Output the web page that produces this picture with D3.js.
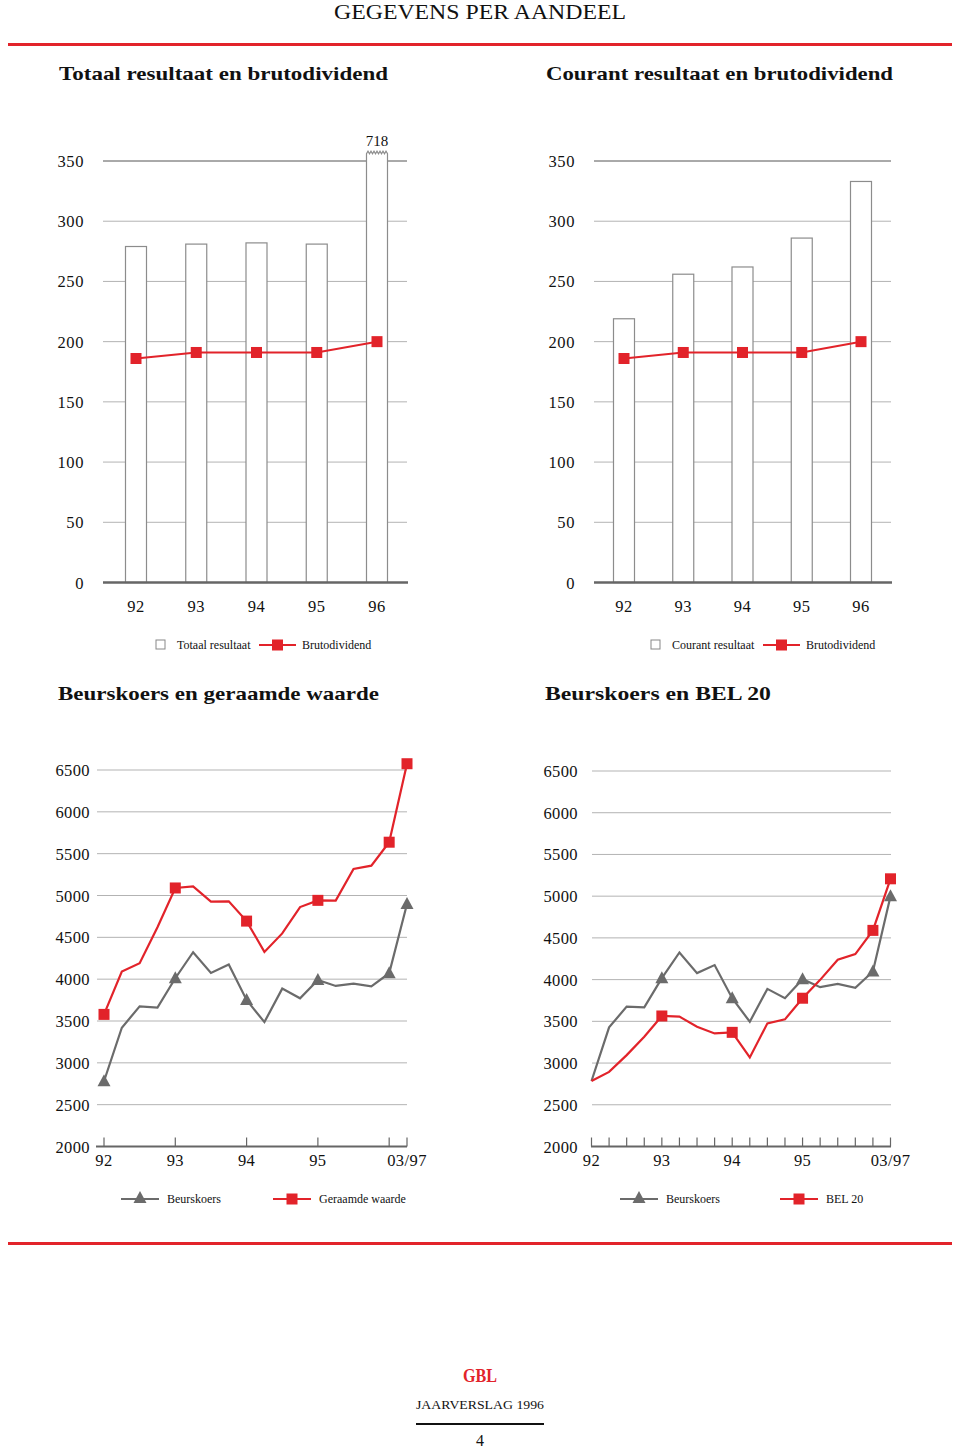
<!DOCTYPE html>
<html><head><meta charset="utf-8">
<script src="https://cdn.jsdelivr.net/npm/d3@7"></script>
<style>
body{margin:0;background:#fff}
svg{display:block}
text{font-family:"Liberation Serif","Times New Roman",serif;fill:#111}
</style>
</head><body>
<svg id="c" width="960" height="1450"></svg>
<script>
// ---------- DATA ----------
const years = ["92", "93", "94", "95", "96"];
const totaalResultaat = [279, 281, 282, 281, 718];
const courantResultaat = [219, 256, 262, 286, 333];
const brutodividend = [186, 191, 191, 191, 200];
const yTicksTop = [0, 50, 100, 150, 200, 250, 300, 350];

const periods = ["92","92-2","92-3","92-4","93","93-2","93-3","93-4","94","94-2","94-3","94-4","95","95-2","95-3","95-4","96","03/97"];
const periodLabels = {"92":"92","93":"93","94":"94","95":"95","03/97":"03/97"};
const beurskoersL = [2780, 3420, 3675, 3660, 4011, 4322, 4074, 4175, 3751, 3487, 3887, 3771, 3991, 3919, 3947, 3915, 4071, 4898];
const geraamdeWaarde = [3579, 4091, 4191, 4620, 5090, 5110, 4926, 4930, 4694, 4326, 4547, 4862, 4942, 4940, 5318, 5357, 5637, 6575];
const beurskoersR = [2785, 3428, 3676, 3668, 4017, 4325, 4078, 4174, 3777, 3495, 3889, 3777, 4005, 3909, 3949, 3901, 4097, 5000];
const bel20 = [2785, 2894, 3095, 3315, 3564, 3556, 3435, 3355, 3368, 3067, 3476, 3524, 3777, 3997, 4238, 4306, 4590, 5208];
const yTicksBottom = [2000, 2500, 3000, 3500, 4000, 4500, 5000, 5500, 6000, 6500];

// ---------- STYLE ----------
const RED = "#e2232a", GRAY = "#6b6b6b", GRID = "#b3b3b3", BARSTROKE = "#8c8c8c", AXIS = "#666";
const svg = d3.select("#c");

// header
svg.append("text").attr("x", 334).attr("y", 19).attr("font-size", 20)
  .attr("textLength", 292).attr("lengthAdjust", "spacingAndGlyphs").text("GEGEVENS PER AANDEEL");
svg.append("rect").attr("x", 8).attr("y", 43).attr("width", 944).attr("height", 3).attr("fill", RED);
svg.append("rect").attr("x", 8).attr("y", 1242).attr("width", 944).attr("height", 3).attr("fill", RED);

function title(x, y, len, t) {
  svg.append("text").attr("x", x).attr("y", y).attr("font-size", 19).attr("font-weight", "bold")
    .attr("textLength", len).attr("lengthAdjust", "spacingAndGlyphs").text(t);
}
title(59, 80, 329, "Totaal resultaat en brutodividend");
title(546, 80, 347, "Courant resultaat en brutodividend");
title(58, 700, 321, "Beurskoers en geraamde waarde");
title(545, 700, 226, "Beurskoers en BEL 20");

// ---------- BAR CHARTS ----------
function barChart(o) {
  const g = svg.append("g");
  const y = d3.scaleLinear().domain([0, 350]).range([582.5, 161]);
  const x = d3.scalePoint().domain(years).range(o.xRange);
  yTicksTop.filter(d => d > 0).forEach(t => {
    g.append("line").attr("x1", o.gx0).attr("x2", o.gx1).attr("y1", y(t)).attr("y2", y(t))
      .attr("stroke", t === 350 ? "#555" : GRID).attr("stroke-width", 1);
  });
  g.selectAll(".yl").data(yTicksTop).join("text")
    .attr("x", o.lx).attr("y", d => y(d) + 6).attr("text-anchor", "end")
    .attr("font-size", 16.5).attr("letter-spacing", 0.6).text(d => d);
  const bw = 21, cap = 356;
  o.values.forEach((v, i) => {
    const cx = x(years[i]), x0 = cx - bw / 2, x1 = cx + bw / 2, yb = y(0);
    if (v > cap) {
      const yt = y(cap);
      let p = `M${x0},${yb}L${x0},${yt}`;
      const n = 7, step = bw / n;
      for (let k = 1; k <= n; k++) {
        p += `L${x0 + step * (k - 0.5)},${yt - 2.5}L${x0 + step * k},${yt}`;
      }
      p += `L${x1},${yb}`;
      g.append("path").attr("d", p).attr("fill", "#fff").attr("stroke", BARSTROKE).attr("stroke-width", 1.2);
      g.append("text").attr("x", cx).attr("y", yt - 8).attr("text-anchor", "middle").attr("font-size", 15).text(v);
    } else {
      g.append("rect").attr("x", x0).attr("y", y(v)).attr("width", bw).attr("height", yb - y(v))
        .attr("fill", "#fff").attr("stroke", BARSTROKE).attr("stroke-width", 1.2);
    }
  });
  g.append("line").attr("x1", o.gx0).attr("x2", o.gx1 + 1).attr("y1", y(0)).attr("y2", y(0))
    .attr("stroke", AXIS).attr("stroke-width", 2.5);
  g.selectAll(".xl").data(years).join("text")
    .attr("x", d => x(d)).attr("y", 612).attr("text-anchor", "middle").attr("font-size", 16.5).attr("letter-spacing", 0.6).text(d => d);
  const line = d3.line().x((d, i) => x(years[i])).y(d => y(d));
  g.append("path").attr("d", line(brutodividend)).attr("fill", "none").attr("stroke", RED).attr("stroke-width", 2);
  g.selectAll(".m").data(brutodividend).join("rect")
    .attr("x", (d, i) => x(years[i]) - 5.5).attr("y", d => y(d) - 5.5).attr("width", 11).attr("height", 11).attr("fill", RED);
  const ly = 645;
  g.append("rect").attr("x", o.leg).attr("y", ly - 5).attr("width", 9).attr("height", 9)
    .attr("fill", "#fff").attr("stroke", "#888").attr("stroke-width", 1);
  g.append("text").attr("x", o.leg + 21).attr("y", ly + 4).attr("font-size", 12).text(o.name);
  const lx = o.leg + o.lineOff;
  g.append("line").attr("x1", lx).attr("x2", lx + 37).attr("y1", ly).attr("y2", ly).attr("stroke", RED).attr("stroke-width", 2);
  g.append("rect").attr("x", lx + 13).attr("y", ly - 5.5).attr("width", 11).attr("height", 11).attr("fill", RED);
  g.append("text").attr("x", lx + 43).attr("y", ly + 4).attr("font-size", 12).text("Brutodividend");
}
barChart({values: totaalResultaat, xRange: [136, 377], gx0: 103, gx1: 407, lx: 84, leg: 156, lineOff: 103, name: "Totaal resultaat"});
barChart({values: courantResultaat, xRange: [624, 861], gx0: 594, gx1: 891, lx: 575, leg: 651, lineOff: 112, name: "Courant resultaat"});

// ---------- LINE CHARTS ----------
function triangle(g, cx, cy) {
  g.append("path").attr("d", `M${cx},${cy - 7}L${cx + 6.5},${cy + 5}L${cx - 6.5},${cy + 5}Z`).attr("fill", GRAY);
}
function lineChart(o) {
  const g = svg.append("g");
  const y = d3.scaleLinear().domain([2000, 6500]).range([1146.5, o.yTop]);
  const x = d3.scalePoint().domain(periods).range(o.xRange);
  yTicksBottom.filter(d => d > 2000).forEach(t => {
    g.append("line").attr("x1", o.gx0).attr("x2", o.gx1).attr("y1", y(t)).attr("y2", y(t))
      .attr("stroke", GRID).attr("stroke-width", 1);
  });
  g.selectAll(".yl").data(yTicksBottom).join("text")
    .attr("x", o.lx).attr("y", d => y(d) + 6).attr("text-anchor", "end")
    .attr("font-size", 16.5).attr("letter-spacing", 0.4).text(d => d);
  g.append("line").attr("x1", o.ax0).attr("x2", o.gx1).attr("y1", y(2000)).attr("y2", y(2000))
    .attr("stroke", AXIS).attr("stroke-width", 2.2);
  g.selectAll(".tk").data(o.ticks).join("line")
    .attr("x1", d => x(d)).attr("x2", d => x(d)).attr("y1", y(2000)).attr("y2", y(2000) - 9)
    .attr("stroke", AXIS).attr("stroke-width", 1.2);
  g.selectAll(".xl").data(Object.keys(periodLabels)).join("text")
    .attr("x", d => x(d)).attr("y", 1166).attr("text-anchor", "middle").attr("font-size", 16.5).attr("letter-spacing", 0.4)
    .text(d => periodLabels[d]);
  const line = d3.line().x((d, i) => x(periods[i])).y(d => y(d));
  g.append("path").attr("d", line(o.gray)).attr("fill", "none").attr("stroke", GRAY).attr("stroke-width", 2.2);
  g.append("path").attr("d", line(o.red)).attr("fill", "none").attr("stroke", RED).attr("stroke-width", 2.2);
  o.markers.forEach(i => triangle(g, x(periods[i]), y(o.gray[i])));
  o.markers.forEach(i => g.append("rect").attr("x", x(periods[i]) - 5.5).attr("y", y(o.red[i]) - 5.5)
    .attr("width", 11).attr("height", 11).attr("fill", RED));
  const ly = 1199;
  g.append("line").attr("x1", o.leg).attr("x2", o.leg + 38).attr("y1", ly).attr("y2", ly).attr("stroke", GRAY).attr("stroke-width", 2);
  triangle(g, o.leg + 19, ly - 1);
  g.append("text").attr("x", o.leg + 46).attr("y", ly + 4).attr("font-size", 12).text("Beurskoers");
  const l2 = o.leg2;
  g.append("line").attr("x1", l2).attr("x2", l2 + 38).attr("y1", ly).attr("y2", ly).attr("stroke", RED).attr("stroke-width", 2);
  g.append("rect").attr("x", l2 + 13.5).attr("y", ly - 5.5).attr("width", 11).attr("height", 11).attr("fill", RED);
  g.append("text").attr("x", l2 + 46).attr("y", ly + 4).attr("font-size", 12).text(o.redName);
}
lineChart({gray: beurskoersL, red: geraamdeWaarde, xRange: [104, 407], yTop: 770, gx0: 97, gx1: 407, ax0: 96, lx: 90,
  ticks: ["92","93","94","95","96","03/97"], markers: [0, 4, 8, 12, 16, 17], leg: 121, leg2: 273, redName: "Geraamde waarde"});
lineChart({gray: beurskoersR, red: bel20, xRange: [591.5, 890.5], yTop: 771, gx0: 592, gx1: 891, ax0: 591, lx: 578,
  ticks: periods, markers: [4, 8, 12, 16, 17], leg: 620, leg2: 780, redName: "BEL 20"});

// ---------- FOOTER ----------
svg.append("text").attr("x", 463).attr("y", 1382).attr("font-size", 19).attr("font-weight", "bold")
  .attr("textLength", 34).attr("lengthAdjust", "spacingAndGlyphs").style("fill", RED).text("GBL");
svg.append("text").attr("x", 416).attr("y", 1409).attr("font-size", 12.5)
  .attr("textLength", 128).attr("lengthAdjust", "spacingAndGlyphs").text("JAARVERSLAG 1996");
svg.append("line").attr("x1", 416).attr("x2", 544).attr("y1", 1424).attr("y2", 1424).attr("stroke", "#111").attr("stroke-width", 2);
svg.append("text").attr("x", 480).attr("y", 1446).attr("text-anchor", "middle").attr("font-size", 16).text("4");
</script>
</body></html>
